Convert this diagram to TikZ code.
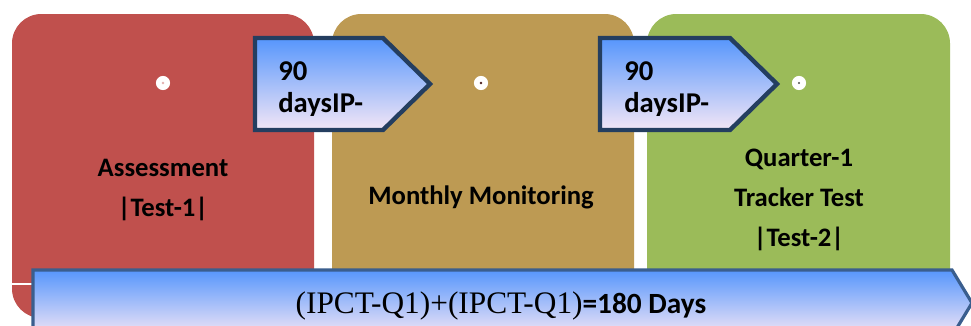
\documentclass[tikz,border=0pt]{standalone}
\usepackage{fontspec}
\setmainfont{Carlito}
\newfontfamily\timesfont{Liberation Serif}
\definecolor{boxred}{RGB}{192,80,77}
\definecolor{boxtan}{RGB}{189,154,83}
\definecolor{boxgreen}{RGB}{155,187,89}
\definecolor{arrowtop}{RGB}{86,150,252}
\definecolor{arrowmid}{RGB}{148,196,246}
\definecolor{arrowbot}{RGB}{243,230,246}
\definecolor{arrowline}{RGB}{36,62,96}
\definecolor{spanline}{RGB}{58,94,142}
\tikzset{
stagebox/.style={rounded corners=22pt},
gapshade/.style={top color=arrowtop,middle color=arrowmid,bottom color=arrowbot,
  draw=arrowline,line width=3.3pt,line join=miter},
stagelabel/.style={anchor=base,inner sep=0pt,font=\fontsize{20pt}{24pt}\selectfont\bfseries},
gaplabel/.style={anchor=base west,inner sep=0pt,font=\fontsize{21.5pt}{26pt}\selectfont\bfseries},
}
\begin{document}
\begin{tikzpicture}[x=0.75pt,y=-0.75pt]
\clip (0,0) rectangle (971,325);
\fill[white] (0,0) rectangle (971,325);
\fill[boxred,stagebox] (12,14) rectangle (314,318);
\fill[boxtan,stagebox] (332,14) rectangle (634,318);
\fill[boxgreen,stagebox] (647,14) rectangle (950,318);
\draw[white,line width=0.8pt] (12,284) -- (34,284);
\fill[white] (163,83) circle (5.3pt);
\fill[boxred!45] (163,83) circle (1.1pt);
\fill[white] (481,83) circle (5.3pt);
\fill[black!60!boxred] (481,83) circle (1.1pt);
\fill[white] (799,83) circle (5.3pt);
\fill[black!70] (799,83) circle (0.8pt);
\node[stagelabel] (assessA) at (163,176) {Assessment};
\node[stagelabel] (assessB) at (163,216) {|Test-1|};
\node[stagelabel] (monitor) at (481,204) {Monthly Monitoring};
\node[stagelabel] (trackerA) at (799,166) {Quarter-1};
\node[stagelabel] (trackerB) at (799,206) {Tracker Test};
\node[stagelabel] (trackerC) at (799,246) {|Test-2|};
\draw[gapshade] (255,38) -- (383,38) -- (430,84) -- (383,130) -- (255,130) -- cycle;
\draw[gapshade] (600,38) -- (730,38) -- (777,84) -- (730,130) -- (600,130) -- cycle;
\node[gaplabel] (gapAtop) at (278,80) {90};
\node[gaplabel] (gapBtop) at (624,80) {90};
\begin{scope}
\clip (250,86) rectangle (780,115);
\node[gaplabel] (gapAbot) at (278,112) {daysIP-};
\node[gaplabel] (gapBbot) at (624,112) {daysIP-};
\end{scope}
\draw[top color=arrowtop,middle color=arrowmid,bottom color=arrowbot,draw=spanline,
  line width=2.4pt,line join=miter] (33,270) -- (952,270) -- (972,303) -- (952,336) -- (33,336) -- cycle;
\node[anchor=base,inner sep=0pt] (span) at (501,313)
  {{\timesfont\fontsize{23.5pt}{28pt}\selectfont (IPCT-Q1)+(IPCT-Q1)}{\fontsize{22pt}{26pt}\selectfont\bfseries =180 Days}};
\end{tikzpicture}
\end{document}
